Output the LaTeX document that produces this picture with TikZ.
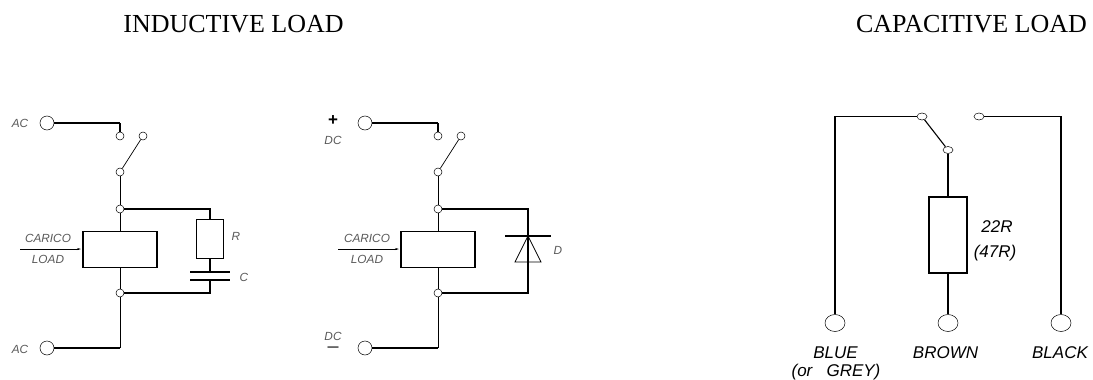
\documentclass[tikz,border=0pt]{standalone}
\usepackage{fontspec}
\usetikzlibrary{shapes.geometric,arrows.meta}
\setmainfont{Liberation Serif}
\newfontfamily\cadfont{Liberation Sans}
\tikzset{
  wireThin/.style={-,line width=0.7pt},%
  wireThick/.style={-,line width=1.1pt},%
  wireBold/.style={-,line width=1.3pt},%
  arrowDecorate/.style={-{Stealth[length=4pt,width=2pt]},line width=0.7pt},%
  termDecorate/.style={shape=circle,draw,line width=0.5pt,fill=white,minimum size=14pt,inner sep=0pt},%
  contactDecorate/.style={shape=circle,draw,line width=0.5pt,fill=white,minimum size=8pt,inner sep=0pt},%
  boxDecorate/.style={shape=rectangle,draw,line width=1.1pt,fill=white,inner sep=0pt},%
  titleDecorate/.style={font=\fontsize{26}{26}\selectfont},%
  labelDecorate/.style={font=\cadfont\itshape\fontsize{11.8}{12}\selectfont,text=black!65,inner sep=0pt,align=center},%
  bigLabel/.style={font=\cadfont\itshape\fontsize{17}{17}\selectfont,text=black,inner sep=0pt,align=center},%
  signDecorate/.style={font=\cadfont\bfseries\fontsize{17}{4}\selectfont,inner sep=0pt,text height=4pt,text depth=0pt}
}
\begin{document}
\begin{tikzpicture}[x=1pt,y=-1pt]
\useasboundingbox (0,0) rectangle (1093,380);
%% titles
\node (titleInd) at (233.5,24) [titleDecorate] {INDUCTIVE LOAD};
\node (titleCap) at (971.5,24) [titleDecorate] {CAPACITIVE LOAD};
%% terminals
\foreach \nodename/\x/\y in {acTop/47/123, acBot/47/348, dcTop/365/123, dcBot/365/348}
{
  \node (\nodename) at (\x,\y) [termDecorate] {};
}
%% contacts and junctions
\foreach \nodename/\x/\y in {aFix/120/136, aOff/143/136, aCom/120/172, aTop/120/209, aBot/120/293,
  dFix/438/136, dOff/461/136, dCom/438/172, dTop/438/209, dBot/438/293}
{
  \node (\nodename) at (\x,\y) [contactDecorate] {};
}
%% relay boxes and R
\node (aCoil) at (120,249.5) [boxDecorate,minimum width=74pt,minimum height=36pt] {};
\node (dCoil) at (438,249.5) [boxDecorate,minimum width=74pt,minimum height=36pt] {};
\node (aR) at (210,238.5) [boxDecorate,line width=0.8pt,minimum width=27pt,minimum height=39pt] {};
%% corner points
\foreach \nodename/\x/\y in {c1/120/123, c2/120/348, c3/210/209, c4/210/293, c5/438/123, c6/438/348,
  c7/528/209, c8/528/293, capA/210/272, capB/210/280, capAl/190/272, capAr/230/272, capBl/190/280, capBr/230/280,
  lArrA/20/249, lArrB/81/249, dArrA/338/249, dArrB/399/249,
  dioK/528/236, dioA/528/262, dioKl/505/236, dioKr/551/236, dioAl/515/262, dioAr/541/262}
{
  \coordinate (\nodename) at (\x,\y);
}
%% edges
\path
\foreach \startnode/\endnode in {acTop/c1, c1/aFix, acBot/c2, dcTop/c5, c5/dFix, dcBot/c6}
{
  (\startnode) edge[wireThick] (\endnode)
};
\draw[wireThin] (aOff) -- (aCom);
\draw[wireThin] (dOff) -- (dCom);
\foreach \startnode/\endnode in {aCom/aTop, aTop/aCoil, aCoil/aBot, aBot/c2, dCom/dTop, dTop/dCoil, dCoil/dBot, dBot/c6}
{
  \draw[wireThin] (\startnode) -- (\endnode);
}
\draw[wireThick] (aTop) -- (c3) -- (aR);
\draw[wireThick] (aR) -- (capA);
\draw[wireThick] (capB) -- (c4) -- (aBot);
\draw[wireThick] (capAl) -- (capAr);
\draw[wireThick] (capBl) -- (capBr);
\draw[wireThick] (dTop) -- (c7) -- (c8) -- (dBot);
\draw[wireThick] (dioKl) -- (dioKr);
\draw[wireThin] (dioK) -- (dioAl) -- (dioAr) -- cycle;
\draw[arrowDecorate] (lArrA) -- (lArrB);
\draw[arrowDecorate] (dArrA) -- (dArrB);
%% labels
\foreach \nodename/\x/\y/\txt in {lAc1/20/123/AC, lAc2/20/349/AC, lCar/48/238/CARICO, lLoad/48/259/LOAD, lR/236/236/R, lC/244/277/C,
  lDc1/333/140/DC, lCar2/367/238/CARICO, lLoad2/367/259/LOAD, lD/558/250/D, lDc2/333/336/DC}
{
  \node (\nodename) at (\x,\y) [labelDecorate] {\txt};
}
\node (lPlus) at (333,123) [signDecorate] {+};
\node (lMinus) at (333,348) [signDecorate,font=\cadfont\bfseries\fontsize{11}{4}\selectfont] {\textemdash};
%% capacitive load
\foreach \nodename/\x/\y in {bluePin/835/323, brownPin/948/323, blackPin/1061/323}
{
  \node (\nodename) at (\x,\y) [shape=ellipse,draw,line width=0.5pt,minimum width=20pt,minimum height=17pt,inner sep=0pt] {};
}
\foreach \nodename/\x/\y in {capFixA/922/116.5, capFixB/979/116.5, capCom/948/150}
{
  \node (\nodename) at (\x,\y) [shape=ellipse,draw,line width=0.5pt,fill=white,minimum width=10pt,minimum height=7pt,inner sep=0pt] {};
}
\node (capRes) at (948,235) [boxDecorate,line width=1.3pt,minimum width=38pt,minimum height=76pt] {};
\coordinate (capC1) at (835,116.5);
\coordinate (capC2) at (1061,116.5);
\draw[wireBold] (bluePin) -- (capC1) -- (capFixA);
\draw[wireBold] (blackPin) -- (capC2) -- (capFixB);
\draw[wireBold] (capCom) -- (capRes);
\draw[wireBold] (capRes) -- (brownPin);
\draw[wireThick] (capFixA) -- (capCom);
\foreach \nodename/\x/\y/\txt in {lBlue/835.5/353/BLUE, lGrey/836/372.5/{(or\ \ \ GREY)}, lBrown/945.5/353/BROWN, lBlack/1060/353/BLACK, l22/997/227/22R, l47/995/253/(47R)}
{
  \node (\nodename) at (\x,\y) [bigLabel] {\txt};
}
\end{tikzpicture}
\end{document}
